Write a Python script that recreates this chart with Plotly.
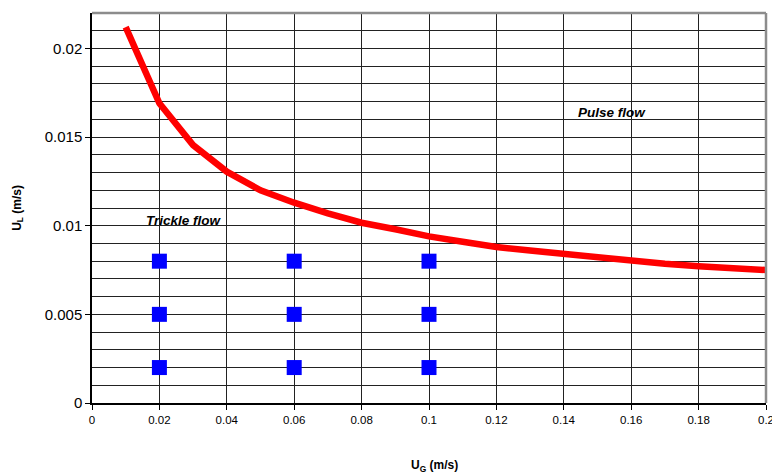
import plotly.graph_objects as go

# Trickle / pulse flow transition boundary (superficial velocities, m/s)
ug_boundary = [0.01, 0.02, 0.03, 0.04, 0.05, 0.06, 0.07, 0.08, 0.09, 0.10,
               0.11, 0.12, 0.13, 0.14, 0.15, 0.16, 0.17, 0.18, 0.19, 0.20]
ul_boundary = [0.0212, 0.0169, 0.01455, 0.01305, 0.0120, 0.0113, 0.0107, 0.01017,
               0.0098, 0.0094, 0.0091, 0.0088, 0.0086, 0.0084, 0.0082, 0.0080,
               0.00785, 0.00772, 0.0076, 0.0075]

# Operating conditions (3 gas x 3 liquid velocities)
ug_levels = [0.02, 0.06, 0.10]
ul_levels = [0.002, 0.005, 0.008]
ug_points = [g for g in ug_levels for _ in ul_levels]
ul_points = [l for _ in ug_levels for l in ul_levels]

# Axis ticks
x_ticks = [0, 0.02, 0.04, 0.06, 0.08, 0.1, 0.12, 0.14, 0.16, 0.18, 0.2]
x_tick_text = ["0", "0.02", "0.04", "0.06", "0.08", "0.1", "0.12", "0.14", "0.16", "0.18", "0.2"]
y_ticks = [0, 0.005, 0.01, 0.015, 0.02]
y_tick_text = ["0", "0.005", "0.01", "0.015", "0.02"]

# Region labels
region_names = ["Trickle flow", "Pulse flow"]
region_x = [0.0272, 0.1544]
region_y = [0.0103, 0.0164]

FONT = "Liberation Sans, Arial, sans-serif"
GRID = "#222222"

fig = go.Figure()

fig.add_trace(go.Scatter(
    x=ug_boundary, y=ul_boundary, mode="lines",
    line=dict(color="#FF0000", width=6.5),
    showlegend=False, hoverinfo="skip",
))

fig.add_trace(go.Scatter(
    x=ug_points, y=ul_points, mode="markers",
    marker=dict(symbol="square", size=15, color="#0000FF", line=dict(width=0)),
    showlegend=False,
))

for name, xv, yv in zip(region_names, region_x, region_y):
    fig.add_annotation(
        x=xv, y=yv, xref="x", yref="y", text=f"<b><i>{name}</i></b>",
        showarrow=False, xanchor="center", yanchor="middle",
        font=dict(family=FONT, size=13.5, color="#000000"),
    )

# Axis titles
fig.add_annotation(
    x=-0.110, y=0.50, xref="paper", yref="paper",
    text="<b>U<sub>L</sub> (m/s)</b>", textangle=-90, showarrow=False,
    xanchor="center", yanchor="middle",
    font=dict(family=FONT, size=12, color="#000000"),
)
fig.add_annotation(
    x=(434 - 91.7) / 674, y=(403.3 - 466) / 390, xref="paper", yref="paper",
    text="<b>U<sub>G</sub> (m/s)</b>", showarrow=False,
    xanchor="center", yanchor="middle",
    font=dict(family=FONT, size=12, color="#000000"),
)

# Plot-area frame on top and right
fig.add_shape(type="line", xref="paper", yref="paper", x0=0, x1=1, y0=1, y1=1,
              line=dict(color="#8c8c8c", width=2.5))
fig.add_shape(type="line", xref="paper", yref="paper", x0=1, x1=1, y0=0, y1=1,
              line=dict(color="#8c8c8c", width=2.5))

fig.update_xaxes(
    range=[0, 0.2], tickmode="array", tickvals=x_ticks, ticktext=x_tick_text,
    showgrid=True, gridcolor=GRID, gridwidth=1,
    ticks="outside", ticklen=5, tickcolor="#000000", tickwidth=1,
    showline=True, linecolor="#000000", linewidth=1.5,
    zeroline=False, ticklabeloverflow="allow", automargin=False,
    tickfont=dict(family=FONT, size=11.5, color="#000000"),
)
fig.update_yaxes(
    range=[0, 0.022], tickmode="array", tickvals=y_ticks, ticktext=y_tick_text,
    showgrid=True, gridcolor=GRID, gridwidth=1,
    minor=dict(dtick=0.001, tick0=0, showgrid=True, gridcolor=GRID, gridwidth=1, ticks=""),
    ticks="outside", ticklen=5, tickcolor="#000000", tickwidth=1,
    showline=True, linecolor="#000000", linewidth=1.5,
    zeroline=False, automargin=False,
    tickfont=dict(family=FONT, size=15, color="#000000"),
)

fig.update_layout(
    width=772, height=475,
    margin=dict(l=92, r=6, t=13, b=72),
    paper_bgcolor="#FFFFFF", plot_bgcolor="#FFFFFF",
    font=dict(family=FONT, color="#000000"),
)

fig.write_html("out.html")
